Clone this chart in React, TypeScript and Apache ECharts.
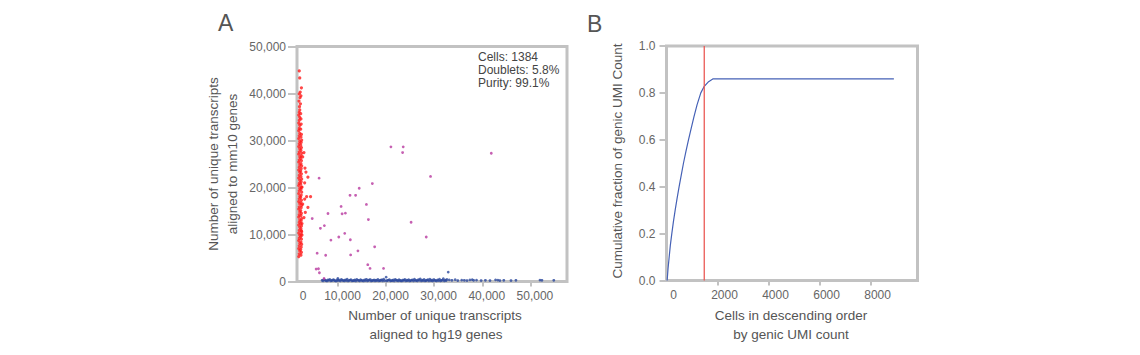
import React, { useEffect, useRef } from "react";
import * as echarts from "echarts";

// ---------- Panel A data ----------
// Mouse cells (red): x = hg19 transcripts, y = mm10 transcripts
const mouseCells: [number, number][] = [
  [1850, 5300], [1950, 5900], [2050, 6500], [1850, 7000], [1950, 7600], [2050, 8100],
  [1850, 8700], [1950, 9200], [2050, 9800], [1850, 10300], [1950, 10900], [2050, 11500],
  [1850, 12000], [1950, 12600], [2050, 13100], [1850, 13700], [1950, 14200], [2050, 14800],
  [1850, 15400], [1950, 15900], [2050, 16500], [1850, 17000], [1950, 17600], [2050, 18100],
  [1850, 18700], [1950, 19300], [2050, 19800], [1850, 20400], [1950, 20900], [2050, 21500],
  [1850, 22000], [1950, 22600], [2050, 23200], [1850, 23700], [1950, 24300], [2050, 24800],
  [1850, 25400], [1950, 25900], [2050, 26500], [1850, 27100], [1950, 27600], [2050, 28200],
  [1850, 28700], [1950, 29300], [2050, 29800], [1850, 30400], [1950, 31000], [2050, 31500],
  [1850, 32100], [1950, 32600], [2050, 33200], [1850, 33700], [1950, 34300], [2050, 34900],
  [1850, 35400], [1950, 36000], [2050, 36500],
  [2300, 5600], [2400, 6200], [2250, 6800], [2350, 7300], [2450, 7900], [2300, 8400],
  [2400, 9000], [2250, 9500], [2350, 10100], [2450, 10600], [2300, 11200], [2400, 11800],
  [2250, 12300], [2350, 12900], [2450, 13400], [2300, 14000], [2400, 14500], [2250, 15100],
  [2350, 15700], [2450, 16200], [2300, 16800], [2400, 17300], [2250, 17900], [2350, 18400],
  [2450, 19000], [2300, 19600], [2400, 20100], [2250, 20700], [2350, 21200], [2450, 21800],
  [2300, 22300], [2400, 22900], [2250, 23500], [2350, 24000], [2450, 24600], [2300, 25100],
  [2400, 25700], [2250, 26200], [2350, 26800], [2450, 27300], [2300, 27900], [2400, 28500],
  [2250, 29000], [2350, 29600], [2450, 30100], [2300, 30700], [2400, 31300], [2250, 32400],
  [2350, 33500], [2300, 34600], [2250, 35700],
  [2000, 37200], [2200, 37800], [1900, 38400], [2100, 39100], [2300, 39500], [1950, 39900],
  [2150, 40300], [2400, 41200], [2050, 43300], [1950, 44800],
  [2930, 27430], [2660, 26500], [3140, 24140], [3340, 23280], [3750, 22200], [3070, 20990],
  [2520, 20060], [3480, 18050], [4300, 18050], [3070, 17550], [3750, 15760], [2660, 16480],
  [3210, 14690], [2520, 12330], [2930, 13610], [2520, 9890], [2380, 10750],
];

// Human cells (blue)
const humanCells: [number, number][] = [
  [6700, 250], [7100, 400], [7500, 180], [7900, 330], [8300, 450], [8700, 220], [9100, 380],
  [9500, 150], [9900, 360], [9970, 640], [10300, 280], [10700, 420], [11100, 200], [11500, 350],
  [11900, 480], [12300, 240], [12700, 390], [13100, 170], [13500, 320], [13900, 460],
  [14300, 230], [14700, 370], [15100, 190], [15500, 340], [15900, 470], [16300, 260],
  [16700, 410], [17100, 200], [17500, 350], [17900, 280], [18300, 430], [18700, 210],
  [19100, 360], [19500, 500], [20010, 930], [20300, 250], [20700, 400], [21100, 180],
  [21500, 330], [21900, 460], [22300, 230], [22700, 380], [23100, 160], [23500, 310],
  [23900, 440], [24300, 260], [24700, 400], [25100, 200], [25500, 350], [25900, 480],
  [26300, 240], [26700, 390], [27100, 560], [27500, 300], [27900, 450], [28300, 220],
  [28700, 370], [29100, 510], [29500, 260], [29900, 410], [30300, 190], [30700, 340],
  [31100, 480], [31500, 250], [31900, 600], [32300, 300], [32650, 450], [32920, 2000],
  [6900, 150], [7300, 300], [7700, 120], [8100, 260], [8500, 140], [8900, 310], [9300, 200],
  [9700, 120], [10100, 230], [10500, 130], [10900, 300], [11300, 150], [11700, 220],
  [12100, 120], [12500, 280], [12900, 140], [13300, 210], [13700, 120], [14100, 290],
  [14500, 150], [14900, 240], [15300, 120], [15700, 200], [16100, 140], [16500, 280],
  [16900, 120], [17300, 230], [17700, 150], [18100, 190], [18500, 130], [18900, 260],
  [19300, 150], [19700, 220], [20100, 130], [20500, 280], [20900, 140], [21300, 220],
  [21700, 120], [22100, 300], [22500, 150], [22900, 210], [23300, 130], [23700, 250],
  [24100, 140], [24500, 210], [24900, 120], [25300, 280], [25700, 150], [26100, 230],
  [26500, 130], [26900, 260], [27300, 150], [27700, 200], [28100, 130], [28500, 290],
  [28900, 140], [29300, 220], [29700, 120], [30100, 260], [30500, 150], [30900, 210],
  [31300, 130], [31700, 280], [32100, 150], [32500, 220],
  [33130, 350], [33680, 250], [34360, 400], [34900, 200], [35720, 300], [36270, 250],
  [36820, 200], [37430, 350], [37910, 400], [38190, 250], [38800, 300], [39760, 200],
  [40650, 250], [41600, 200], [42760, 350], [43240, 300], [43650, 200], [44470, 250],
  [45970, 200], [46990, 250], [51990, 300], [52400, 250], [54860, 250],
];

// Doublets (purple)
const doublets: [number, number][] = [
  [21000, 28650], [23560, 28650], [23430, 27430], [41870, 27290], [29240, 22350], [6075, 21990],
  [17140, 20840], [14410, 19840], [12500, 18340], [13660, 18340], [15910, 16400], [10650, 15970],
  [7920, 14470], [10860, 14400], [11540, 14540], [16320, 13180], [4640, 13390], [25200, 12610],
  [7170, 11890], [6350, 11320], [11400, 10240], [28350, 9460], [10170, 9460], [8530, 8810],
  [12570, 8880], [17620, 7380], [14140, 6520], [5670, 6020], [7440, 5590], [12630, 5660],
  [5460, 2650], [5940, 2720], [6140, 1860], [16190, 3580], [16660, 2790], [19470, 2790],
  [7100, 640],
];

const scatterXTicks = [10000, 20000, 30000, 40000, 50000];
const scatterZeroLabel = "0";
const statsLines = ["Cells: 1384", "Doublets: 5.8%", "Purity: 99.1%"];

// ---------- Panel B data ----------
const cumulativeCurve: [number, number][] = [
  [25, 0], [60, 0.05], [105, 0.1], [150, 0.15], [208, 0.2], [270, 0.25], [340, 0.3],
  [415, 0.35], [495, 0.4], [580, 0.45], [665, 0.5], [760, 0.55], [862, 0.6], [970, 0.65],
  [1080, 0.7], [1200, 0.75], [1345, 0.8], [1480, 0.828], [1650, 0.848], [1829, 0.86],
  [8914, 0.86],
];
const thresholdLine: [number, number][] = [[1480, 0], [1480, 1]];
const curveXTicks = [0, 2000, 4000, 6000, 8000];

const FONT = "'Liberation Sans', Arial, Helvetica, sans-serif";
const BORDER = "#c2c2c2";
const LABEL = "#666";
const NAME = "#555";

function textEl(text: string, x: number, y: number, size: number, color: string, align = "center", rotation = 0) {
  return {
    type: "text",
    x,
    y,
    rotation,
    silent: true,
    style: {
      text,
      fill: color,
      fontSize: size,
      fontFamily: FONT,
      textAlign: align,
      textVerticalAlign: "middle",
    },
  };
}

export default function App() {
  const ref = useRef<HTMLDivElement>(null);

  useEffect(() => {
    if (!ref.current) return;
    const chart = echarts.init(ref.current, null, { renderer: "svg" });
    const fmtComma = (v: number) => Math.round(v).toLocaleString("en-US");
    const option: any = {
      animation: false,
      textStyle: { fontFamily: FONT },
      grid: [
        { left: 297, top: 46.5, width: 270, height: 235, show: true, borderColor: BORDER, borderWidth: 3, backgroundColor: "transparent" },
        { left: 666.5, top: 46, width: 251, height: 234.5, show: true, borderColor: BORDER, borderWidth: 3, backgroundColor: "transparent" },
      ],
      xAxis: [
        {
          gridIndex: 0, type: "value", min: 1480, max: 57610,
          axisLine: { show: false }, splitLine: { show: false },
          axisTick: { show: true, length: 5, customValues: scatterXTicks, lineStyle: { color: BORDER, width: 2 } },
          axisLabel: { customValues: scatterXTicks, formatter: fmtComma, fontSize: 12, color: LABEL, margin: 8, padding: [0, 0, 0, 9], fontFamily: FONT },
        },
        {
          gridIndex: 1, type: "value", min: 0, max: 9840,
          axisLine: { show: false }, splitLine: { show: false },
          axisTick: { show: true, length: 5, customValues: curveXTicks.filter((v) => v > 0), lineStyle: { color: BORDER, width: 2 } },
          axisLabel: { customValues: curveXTicks, formatter: (v: number) => String(v), fontSize: 12, color: LABEL, margin: 8, padding: [0, 0, 0, 14], fontFamily: FONT, showMinLabel: true },
        },
      ],
      yAxis: [
        {
          gridIndex: 0, type: "value", min: 0, max: 50000, interval: 10000,
          axisLine: { show: false }, splitLine: { show: false },
          axisTick: { show: true, length: 9, lineStyle: { color: BORDER, width: 2 } },
          axisLabel: { formatter: fmtComma, fontSize: 12, color: LABEL, margin: 11, fontFamily: FONT },
        },
        {
          gridIndex: 1, type: "value", min: 0, max: 1, interval: 0.2,
          axisLine: { show: false }, splitLine: { show: false },
          axisTick: { show: true, length: 7, lineStyle: { color: BORDER, width: 2 } },
          axisLabel: { formatter: (v: number) => v.toFixed(1), fontSize: 12, color: LABEL, margin: 11, fontFamily: FONT },
        },
      ],
      series: [
        {
          type: "scatter", xAxisIndex: 0, yAxisIndex: 0, data: humanCells,
          symbol: "circle", symbolSize: 2.8, itemStyle: { color: "#2d4a9e" }, silent: true,
        },
        {
          type: "scatter", xAxisIndex: 0, yAxisIndex: 0, data: mouseCells,
          symbol: "circle", symbolSize: 3.2, itemStyle: { color: "#ff1a1a" }, silent: true,
        },
        {
          type: "scatter", xAxisIndex: 0, yAxisIndex: 0, data: doublets,
          symbol: "circle", symbolSize: 2.8, itemStyle: { color: "#b8389f" }, silent: true,
        },
        {
          type: "line", xAxisIndex: 1, yAxisIndex: 1, data: cumulativeCurve,
          showSymbol: false, smooth: false, lineStyle: { color: "#4561b6", width: 1.2 }, silent: true,
        },
        {
          type: "line", xAxisIndex: 1, yAxisIndex: 1, data: thresholdLine,
          showSymbol: false, lineStyle: { color: "#ea5a55", width: 1.3 }, silent: true,
        },
      ],
      graphic: [
        textEl("A", 218, 23, 23, NAME, "left"),
        textEl("B", 587, 24, 23, NAME, "left"),
        textEl(scatterZeroLabel, 303, 295.5, 12, LABEL),
        textEl("Number of unique transcripts", 213, 164, 13.5, NAME, "center", Math.PI / 2),
        textEl("aligned to mm10 genes", 232, 164, 13.5, NAME, "center", Math.PI / 2),
        textEl("Number of unique transcripts", 435, 315, 13.5, NAME),
        textEl("aligned to hg19 genes", 436, 334, 13.5, NAME),
        textEl("Cumulative fraction of genic UMI Count", 617, 161, 13.5, NAME, "center", Math.PI / 2),
        textEl("Cells in descending order", 791, 315, 13.5, NAME),
        textEl("by genic UMI count", 791, 334, 13.5, NAME),
        ...statsLines.map((s, i) => textEl(s, 478, 57 + i * 13, 12, "#444", "left")),
      ],
    };
    chart.setOption(option);
    return () => chart.dispose();
  }, []);

  return (
    <div
      ref={ref}
      style={{ position: "absolute", left: 0, top: 0, width: 1140, height: 355, background: "#fff" }}
    />
  );
}
